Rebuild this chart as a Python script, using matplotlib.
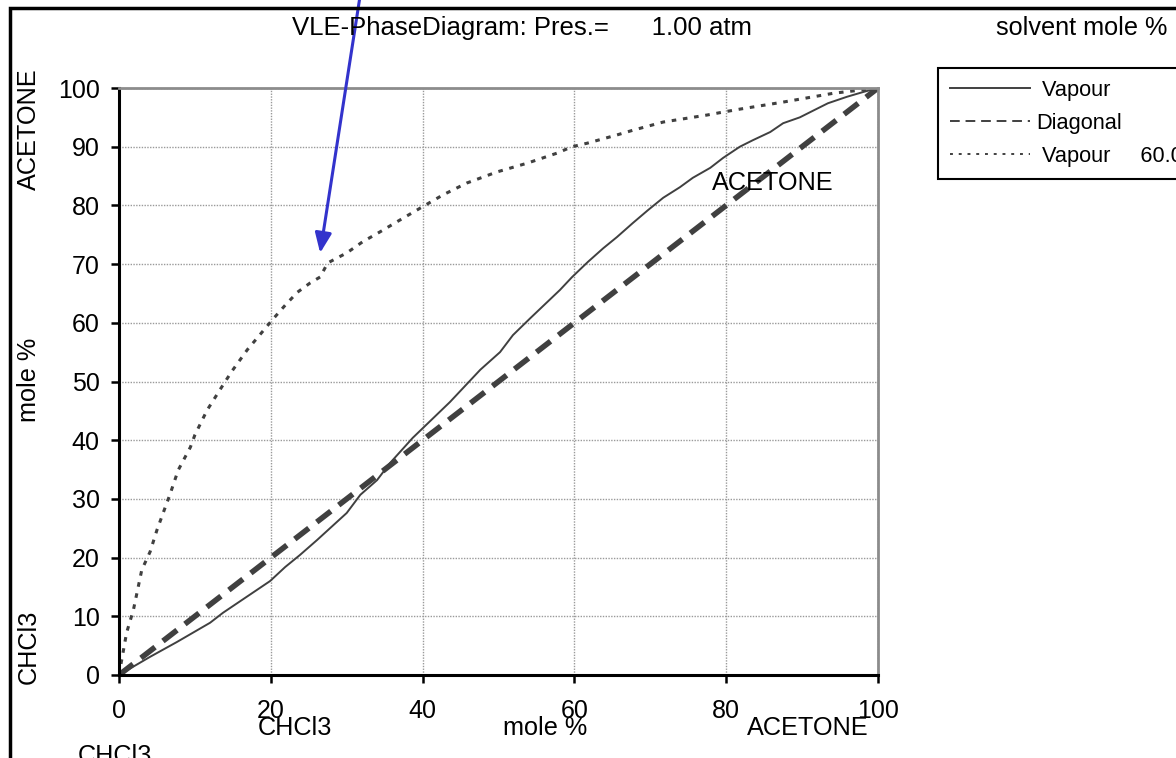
import matplotlib
matplotlib.use("Agg")
import matplotlib.pyplot as plt
from matplotlib.patches import Rectangle

plt.rcParams['font.family'] = ['Liberation Sans', 'DejaVu Sans']

# ---- data (mole % acetone in liquid vs vapour) ----
vap_x = [0, 4.1, 7.6, 12.0, 13.7, 19.9, 21.9, 23.8, 26.1, 30.0, 31.8, 34.0, 35.7, 38.7,
         43.6, 47.6, 50.2, 51.9, 54.2, 58.1, 59.7, 61.8, 63.8, 65.6, 67.7, 69.7, 71.7,
         73.9, 75.6, 77.9, 79.6, 81.8, 83.5, 85.8, 87.5, 89.7, 91.7, 93.4, 95.9, 98.0, 100]
vap_y = [0, 3.1, 5.6, 8.9, 10.6, 16.0, 18.4, 20.4, 23.0, 27.6, 30.7, 33.2, 36.1, 40.4,
         46.5, 52.0, 55.0, 57.9, 60.8, 65.6, 67.8, 70.4, 72.7, 74.6, 77.0, 79.2, 81.3,
         83.1, 84.7, 86.4, 88.1, 90.0, 91.1, 92.5, 94.0, 95.0, 96.3, 97.4, 98.5, 99.3, 100]

diag_x = [0, 5, 10, 15, 20, 25, 30, 35, 40, 45, 50, 55, 60, 65, 70, 75, 80, 85, 90, 95, 100]
diag_y = [0, 5, 10, 15, 20, 25, 30, 35, 40, 45, 50, 55, 60, 65, 70, 75, 80, 85, 90, 95, 100]

vap60_x = [0, 1.0, 1.9, 3.0, 4.1, 5.0, 6.1, 6.7, 7.8, 9.4, 10.0, 11.6, 13.7, 14.9, 16.9,
           18.2, 20.2, 21.9, 23.5, 25.2, 26.5, 27.5, 30.0, 32.1, 34.4, 37.0, 39.9, 42.7,
           45.8, 49.8, 53.8, 57.7, 59.7, 61.7, 65.6, 67.7, 71.7, 77.5, 79.6, 81.8, 87.5,
           94.1, 100]
vap60_y = [0, 7.2, 11.1, 17.9, 21.0, 24.7, 28.6, 30.7, 34.9, 38.8, 40.9, 45.1, 49.4, 51.8,
           55.4, 57.4, 60.5, 63.0, 65.2, 66.8, 67.8, 70.2, 71.9, 73.8, 75.5, 77.5, 79.7,
           81.8, 83.8, 85.7, 87.2, 88.9, 90.0, 90.6, 92.0, 92.8, 94.2, 95.4, 95.9, 96.4,
           97.6, 99.1, 100]

x_ticks = [0, 20, 40, 60, 80, 100]
y_ticks = [0, 10, 20, 30, 40, 50, 60, 70, 80, 90, 100]
series_labels = [" Vapour", "Diagonal", " Vapour     60.0 \u00b0C"]
title_text = "VLE-PhaseDiagram: Pres.=      1.00 atm"

W, H = 1176, 758
fig = plt.figure(figsize=(W / 100, H / 100), dpi=100)
fig.patch.set_facecolor('white')

# outer frame (only top and left visible)
fig.add_artist(Rectangle((10 / W, -0.5), 2.0, 1 - 8 / H + 0.5, transform=fig.transFigure,
                         fill=False, edgecolor='black', linewidth=2.5))

ax = fig.add_axes([119 / W, 1 - 675 / H, (878 - 119) / W, (675 - 88) / H])
ax.set_xlim(0, 100)
ax.set_ylim(0, 100)
ax.set_xticks(x_ticks)
ax.set_yticks(y_ticks)
ax.grid(True, color='#9a9a9a', linestyle=(0, (1, 1)), linewidth=1.0)
ax.set_axisbelow(True)
for side in ['left', 'bottom']:
    ax.spines[side].set_color('black')
    ax.spines[side].set_linewidth(2.2)
for side in ['top', 'right']:
    ax.spines[side].set_color('#8c8c8c')
    ax.spines[side].set_linewidth(2.0)
ax.tick_params(axis='both', direction='out', length=6, width=1.8, labelsize=18, colors='black')
ax.tick_params(axis='y', pad=8)
ax.tick_params(axis='x', pad=11)

lc = '#404040'
l1, = ax.plot(vap_x, vap_y, color=lc, linewidth=1.4, solid_joinstyle='round')
l2, = ax.plot(diag_x, diag_y, color=lc, linewidth=4.0, linestyle=(0, (3.2, 1.8)))
l3, = ax.plot(vap60_x, vap60_y, color=lc, linewidth=2.2, linestyle=(0, (1.5, 2.2)))

ax.text(86.2, 83.8, "ACETONE", fontsize=18.2, ha='center', va='center')

# arrow
ax.annotate("", xy=(26.5, 71.9), xytext=(31.8, 116), xycoords='data', textcoords='data',
            annotation_clip=False,
            arrowprops=dict(arrowstyle='-|>,head_length=1.2,head_width=0.5',
                            color='#3333cc', linewidth=2.2, shrinkA=0, shrinkB=0))

# texts in figure pixel positions
def ftext(x, y, s, **kw):
    fig.text(x / W, 1 - y / H, s, fontsize=kw.pop('fontsize', 18.2), **kw)

ftext(522, 28, title_text, ha='center', va='center', fontsize=18.5)
ftext(1082, 28, "solvent mole %", ha='center', va='center')
ftext(29, 129, "ACETONE", ha='center', va='center', rotation=90)
ftext(29, 380, "mole %", ha='center', va='center', rotation=90)
ftext(29, 647, "CHCl3", ha='center', va='center', rotation=90)
ftext(295, 728, "CHCl3", ha='center', va='center')
ftext(545, 728, "mole %", ha='center', va='center')
ftext(808, 728, "ACETONE", ha='center', va='center')
ftext(115, 756, "CHCl3", ha='center', va='center')

leg = fig.legend([l1, l2, l3], series_labels, loc='upper left',
                 bbox_to_anchor=(938 / W, 1 - 68 / H), bbox_transform=fig.transFigure,
                 fontsize=15.7, frameon=True, fancybox=False, framealpha=1,
                 edgecolor='black', handlelength=3.67, handletextpad=0.27,
                 borderpad=0.55, labelspacing=0.55, borderaxespad=0)
leg.get_frame().set_linewidth(1.5)
for h in leg.get_lines():
    h.set_linewidth(1.4)
leg.get_lines()[1].set_linestyle((0, (5, 3)))
leg.get_lines()[2].set_linestyle((0, (1.5, 3)))

fig.savefig("out.png", dpi=100)
